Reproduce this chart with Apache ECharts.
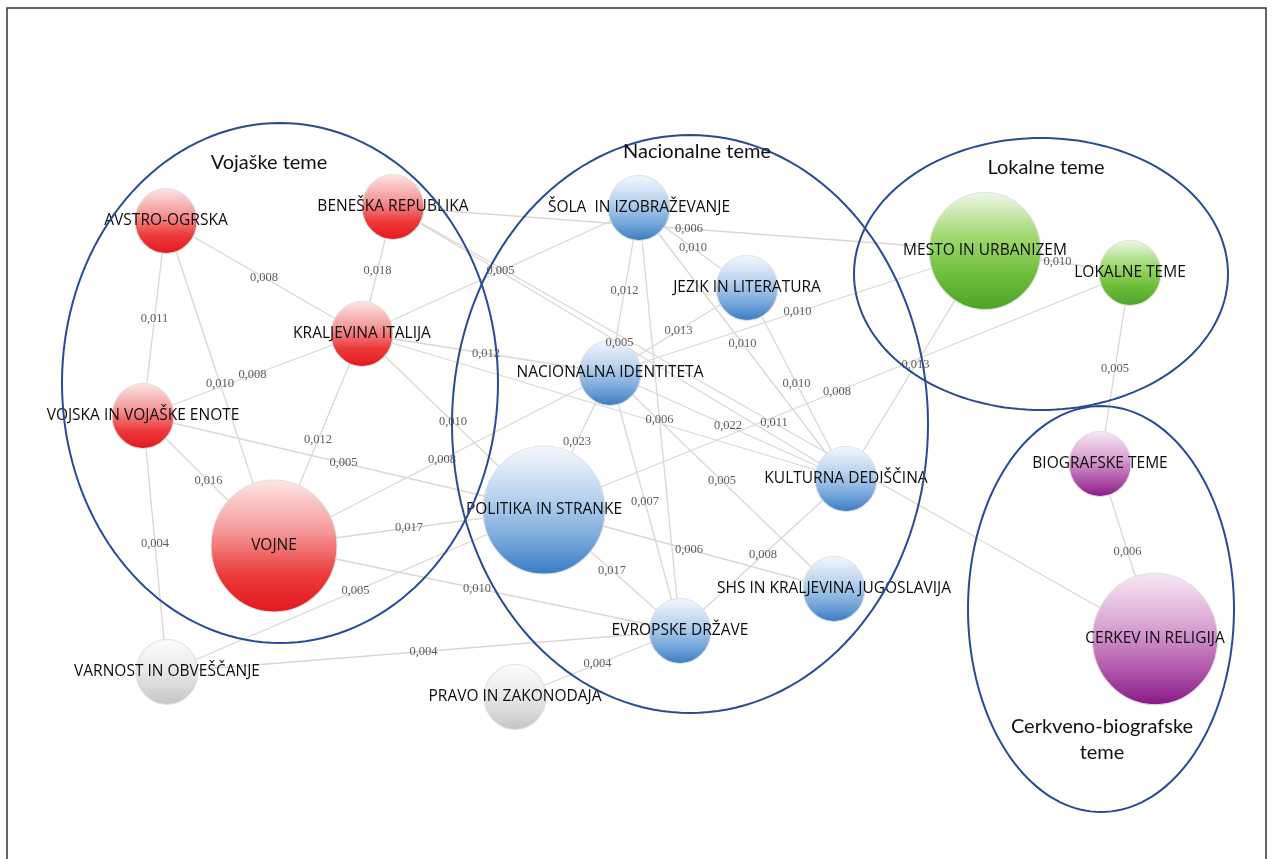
<!DOCTYPE html>
<html><head><meta charset="utf-8">
<script src="https://cdn.jsdelivr.net/npm/echarts@6/dist/echarts.min.js"></script>
<style>html,body{margin:0;padding:0;background:#fff}#chart{width:1274px;height:859px}</style>
</head><body><div id="chart"></div>
<script>
// ---- nodes (layout coordinates of the network map) ----
const nodeNames = ['AVSTRO-OGRSKA','BENEŠKA REPUBLIKA','KRALJEVINA ITALIJA','VOJSKA IN VOJAŠKE ENOTE','VOJNE',
  'VARNOST IN OBVEŠČANJE','PRAVO IN ZAKONODAJA','ŠOLA  IN IZOBRAŽEVANJE','JEZIK IN LITERATURA','NACIONALNA IDENTITETA',
  'POLITIKA IN STRANKE','KULTURNA DEDIŠČINA','SHS IN KRALJEVINA JUGOSLAVIJA','EVROPSKE DRŽAVE','MESTO IN URBANIZEM',
  'LOKALNE TEME','BIOGRAFSKE TEME','CERKEV IN RELIGIJA'];
const nodeX = [166,393,362,143,274,167,515,639,747,610,544,846,834,680,985,1130,1100,1155];
const nodeY = [221,207,334,416,546,672,697,208,288,373,510,479,589,631,251,273,464,639];
const nodeWeight = [1,1,1,1,2.03,1,1,1,1,1,1.97,1,1,1,1.8,1,1,2.02];
const nodeGroup = ['voj','voj','voj','voj','voj','none','none','nac','nac','nac','nac','nac','nac','nac','lok','lok','cer','cer'];

// ---- edges ----
const edgeSource = ['AVSTRO-OGRSKA','BENEŠKA REPUBLIKA','AVSTRO-OGRSKA','AVSTRO-OGRSKA','VOJSKA IN VOJAŠKE ENOTE',
  'KRALJEVINA ITALIJA','VOJSKA IN VOJAŠKE ENOTE','VOJSKA IN VOJAŠKE ENOTE','VOJSKA IN VOJAŠKE ENOTE','VOJNE',
  'VOJNE','VOJNE','VARNOST IN OBVEŠČANJE','VARNOST IN OBVEŠČANJE','KRALJEVINA ITALIJA',
  'KRALJEVINA ITALIJA','KRALJEVINA ITALIJA','KRALJEVINA ITALIJA','BENEŠKA REPUBLIKA','BENEŠKA REPUBLIKA',
  'BENEŠKA REPUBLIKA','ŠOLA  IN IZOBRAŽEVANJE','ŠOLA  IN IZOBRAŽEVANJE','ŠOLA  IN IZOBRAŽEVANJE','ŠOLA  IN IZOBRAŽEVANJE',
  'NACIONALNA IDENTITETA','NACIONALNA IDENTITETA','JEZIK IN LITERATURA','NACIONALNA IDENTITETA','NACIONALNA IDENTITETA',
  'NACIONALNA IDENTITETA','NACIONALNA IDENTITETA','POLITIKA IN STRANKE','MESTO IN URBANIZEM','POLITIKA IN STRANKE',
  'EVROPSKE DRŽAVE','POLITIKA IN STRANKE','PRAVO IN ZAKONODAJA','MESTO IN URBANIZEM','LOKALNE TEME','BIOGRAFSKE TEME'];
const edgeTarget = ['KRALJEVINA ITALIJA','KRALJEVINA ITALIJA','VOJSKA IN VOJAŠKE ENOTE','VOJNE','KRALJEVINA ITALIJA',
  'VOJNE','VOJNE','VARNOST IN OBVEŠČANJE','POLITIKA IN STRANKE','NACIONALNA IDENTITETA',
  'POLITIKA IN STRANKE','EVROPSKE DRŽAVE','POLITIKA IN STRANKE','EVROPSKE DRŽAVE','POLITIKA IN STRANKE',
  'NACIONALNA IDENTITETA','ŠOLA  IN IZOBRAŽEVANJE','KULTURNA DEDIŠČINA','MESTO IN URBANIZEM','KULTURNA DEDIŠČINA',
  'CERKEV IN RELIGIJA','JEZIK IN LITERATURA','NACIONALNA IDENTITETA','KULTURNA DEDIŠČINA','EVROPSKE DRŽAVE',
  'JEZIK IN LITERATURA','MESTO IN URBANIZEM','KULTURNA DEDIŠČINA','KULTURNA DEDIŠČINA','SHS IN KRALJEVINA JUGOSLAVIJA',
  'POLITIKA IN STRANKE','EVROPSKE DRŽAVE','LOKALNE TEME','KULTURNA DEDIŠČINA','SHS IN KRALJEVINA JUGOSLAVIJA',
  'KULTURNA DEDIŠČINA','EVROPSKE DRŽAVE','EVROPSKE DRŽAVE','LOKALNE TEME','BIOGRAFSKE TEME','CERKEV IN RELIGIJA'];
// null = label not readable (hidden under a node)
const edgeValue = [0.008,0.018,0.011,0.010,0.008,
  0.012,0.016,0.004,0.005,0.008,
  0.017,0.010,0.005,0.004,0.010,
  0.012,0.005,null,0.006,0.005,
  0.011,0.010,0.012,0.010,0.006,
  0.013,0.010,0.010,0.022,0.005,
  0.023,0.007,0.008,0.013,0.006,
  0.008,0.017,0.004,0.010,0.005,0.006];

// ---- topic groups ----
const groupTitle = ['Vojaške teme','Nacionalne teme','Lokalne teme','Cerkveno-biografske\nteme'];
const groupCx = [280,690,1041,1101];
const groupCy = [383,424,274,609];
const groupRx = [218,238,187,133];
const groupRy = [260,289,136,203];
const groupTitleX = [269,697,1046,1102];
const groupTitleY = [163,152,168,740];

// ---- styles ----
const palette = {
  voj: ['#fde6e6','#f59b9b','#ec3a3a','#e2181d'],
  nac: ['#f4f8fd','#bcd5ef','#79a9dc','#3a7bc4'],
  lok: ['#f0f8e8','#a0d870','#6bbc39','#4ca328'],
  cer: ['#f7e8f5','#dba8d5','#b25aab','#881888'],
  none:['#fcfcfc','#ededed','#d9d9d9','#c4c4c4']
};
function grad(g){
  const c = palette[g];
  return {type:'linear',x:0,y:0,x2:0,y2:1,colorStops:[
    {offset:0,color:c[0]},{offset:0.38,color:c[1]},{offset:0.72,color:c[2]},{offset:1,color:c[3]}]};
}
const idx = {}; nodeNames.forEach((n,i)=>idx[n]=i);
const fmt = v => v.toFixed(3).replace('.', ',');

const nodes = nodeNames.map((n,i)=>({
  name:n, value:[nodeX[i], nodeY[i]],
  symbolSize:[62*nodeWeight[i], 65*nodeWeight[i]],
  itemStyle:{color:grad(nodeGroup[i]), borderColor:'#e0e0e0', borderWidth:1}
}));
const links = edgeSource.map((s,i)=>({source:s, target:edgeTarget[i], value:edgeValue[i]}));
const edgeLabelData = [];
edgeSource.forEach((s,i)=>{
  if (edgeValue[i] === null) return;
  const a = idx[s], b = idx[edgeTarget[i]];
  edgeLabelData.push([(nodeX[a]+nodeX[b])/2, (nodeY[a]+nodeY[b])/2, fmt(edgeValue[i])]);
});

const chart = echarts.init(document.getElementById('chart'));
chart.setOption({
  backgroundColor:'#ffffff',
  animation:false,
  grid:{left:0,right:0,top:0,bottom:0},
  xAxis:{type:'value',min:0,max:1274,show:false},
  yAxis:{type:'value',min:0,max:859,inverse:true,show:false},
  graphic:[{type:'rect', x:7, y:8, shape:{x:0,y:0,width:1259,height:900},
    style:{fill:'none', stroke:'#333', lineWidth:1.5}, silent:true, z:100}],
  series:[
    {
      type:'graph', coordinateSystem:'cartesian2d', layout:'none', z:2,
      data:nodes, links:links,
      label:{show:true, position:'inside', color:'#0d0d0d', fontFamily:'Open Sans', fontSize:15.5},
      lineStyle:{color:'#ddd6d2', width:1.3, opacity:1, curveness:0},
      emphasis:{disabled:true}, silent:true
    },
    {
      type:'scatter', z:3, symbolSize:0, silent:true,
      data:edgeLabelData,
      label:{show:true, position:'inside', formatter:p=>p.value[2],
        fontFamily:'Liberation Serif', fontSize:12.5, color:'#333'}
    },
    {
      type:'custom', z:5, silent:true, clip:false,
      data:groupCx.map((x,i)=>[x, groupCy[i]]),
      renderItem:(params, api)=>{
        const i = params.dataIndex;
        const pts = [];
        for (let k=0;k<=160;k++){
          const t = k/160*2*Math.PI;
          pts.push(api.coord([groupCx[i]+groupRx[i]*Math.cos(t), groupCy[i]+groupRy[i]*Math.sin(t)]));
        }
        const tp = api.coord([groupTitleX[i], groupTitleY[i]]);
        return {type:'group', children:[
          {type:'polyline', shape:{points:pts}, style:{fill:'none', stroke:'#2a4a92', lineWidth:2}},
          {type:'text', x:tp[0], y:tp[1], style:{text:groupTitle[i], fontFamily:'Lato', fontSize:20,
            lineHeight:26, fill:'#111', align:'center', verticalAlign:'middle'}}
        ]};
      }
    }
  ]
});
</script></body></html>
